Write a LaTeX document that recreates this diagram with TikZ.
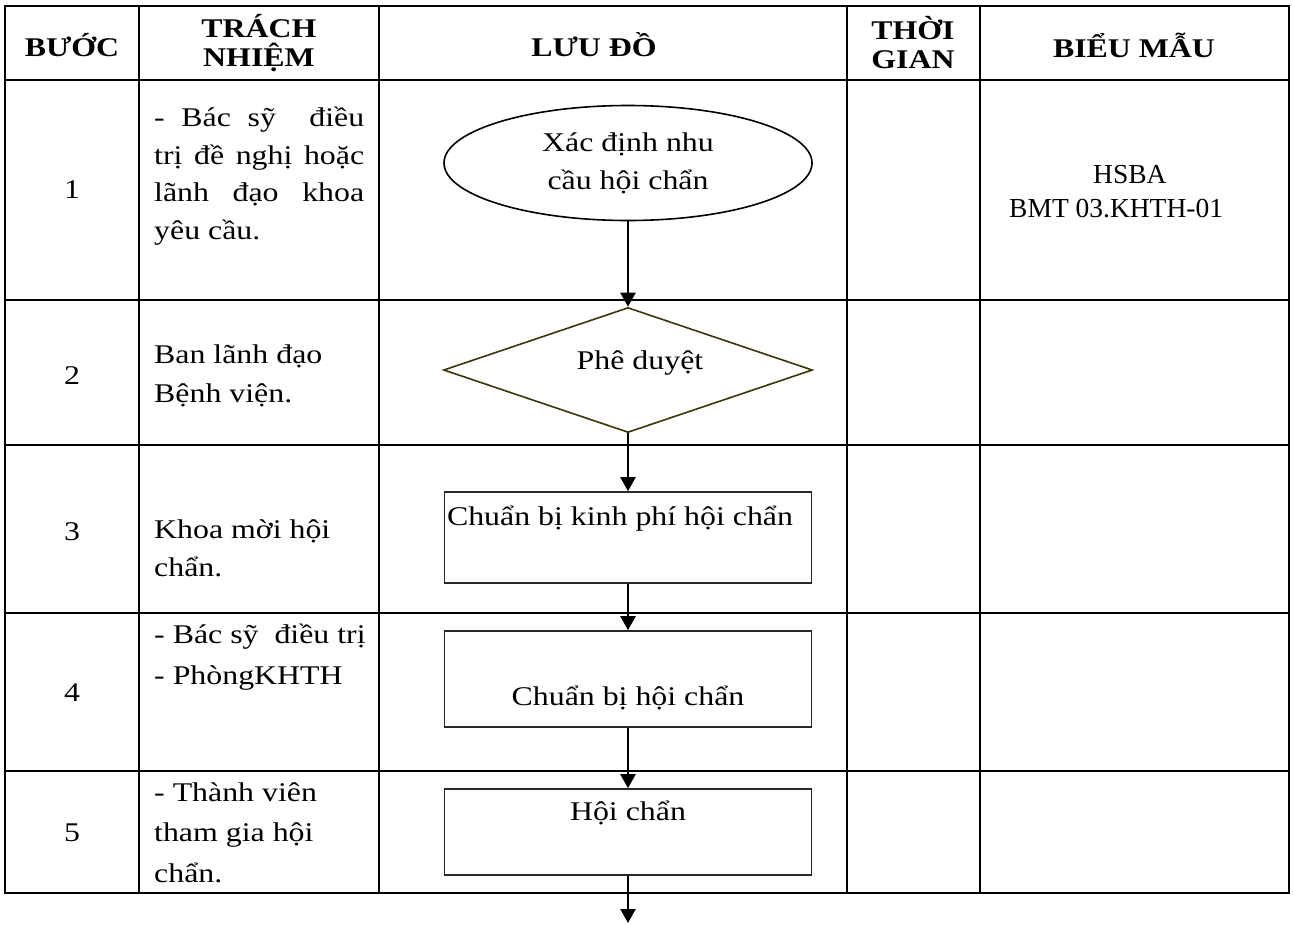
\documentclass[tikz,border=0pt]{standalone}
\usepackage{fontspec}
\setmainfont{Liberation Serif}[FakeStretch=1.18]
\newfontfamily\plainfont{Liberation Serif}
\usetikzlibrary{shapes.geometric,arrows.meta}
\definecolor{diacol}{RGB}{58,54,8}
\definecolor{boxcol}{RGB}{40,40,40}
\begin{document}
\begin{tikzpicture}[x=1pt,y=-1pt,
  gridline/.style={line width=2.6pt,line cap=rect},
  txt/.style={font=\fontsize{27}{38}\selectfont, inner sep=0pt, align=left},
  hdr/.style={font=\fontsize{27}{29}\selectfont\bfseries, inner sep=0pt, align=center},
  num/.style={font=\fontsize{27}{38}\selectfont, inner sep=0pt},
  flowtxt/.style={font=\fontsize{27}{38}\selectfont, inner sep=0pt},
  boxshape/.style={flowtxt, draw=boxcol, line width=1.6pt, rectangle, minimum width=367pt},
  conn/.style={line width=2.2pt, -{Triangle[length=14pt,width=15pt]}},
]
\useasboundingbox (0,0) rectangle (1293,924);
% table grid
\draw[gridline] (5,6) rectangle (1289,893);
\foreach \yy in {80,300,445,613,771} \draw[gridline] (5,\yy) -- (1289,\yy);
\foreach \xx in {139,379,847,980} \draw[gridline] (\xx,6) -- (\xx,893);
% header
\node[hdr] (hB) at (72,45) {BƯỚC};
\node[hdr] (hT) at (259,43) {TRÁCH\\NHIỆM};
\node[hdr] (hL) at (594,45) {LƯU ĐỒ};
\node[hdr] (hTG) at (913,43) {THỜI\\GIAN};
\node[hdr] (hBM) at (1134,45) {BIỂU MẪU};
% step numbers
\node[num] (n1) at (72,190) {1};
\node[num] (n2) at (72,376) {2};
\node[num] (n3) at (72,532) {3};
\node[num] (n4) at (72,693) {4};
\node[num] (n5) at (72,833) {5};
% responsibilities (anchor = baseline of last line)
\node[txt, font=\fontsize{27}{37.5}\selectfont, anchor=base west] (r1) at (154,239)
  {\makebox[210pt][s]{- Bác sỹ\ \ điều}\\\makebox[210pt][s]{trị đề nghị hoặc}\\\makebox[210pt][s]{lãnh đạo khoa}\\yêu cầu.};
\node[txt, font=\fontsize{27}{39}\selectfont, anchor=base west] (r2) at (154,402) {Ban lãnh đạo\\Bệnh viện.};
\node[txt, anchor=base west] (r3) at (154,576) {Khoa mời hội\\chẩn.};
\node[txt, font=\fontsize{27}{41}\selectfont, anchor=base west] (r4) at (154,684) {- Bác sỹ\ \ điều trị\\- PhòngKHTH};
\node[txt, font=\fontsize{27}{40.5}\selectfont, anchor=base west] (r5) at (154,882) {- Thành viên\\tham gia hội\\chẩn.};
% forms
\node[inner sep=0pt, align=left, font=\plainfont\fontsize{27.5}{34}\selectfont, anchor=base west] (f1) at (1009,217)
  {\hspace*{84pt}HSBA\\BMT 03.KHTH-01};
% flowchart
\node[ellipse, draw=black, line width=1.6pt, minimum width=368pt, minimum height=115pt, inner sep=0pt,
      align=center, font=\fontsize{27}{38}\selectfont] (e) at (628,163) {Xác định nhu\\cầu hội chẩn};
\node[diamond, aspect=2.95, draw=diacol, line width=1.6pt, minimum width=369pt, minimum height=125pt, inner sep=0pt,
      flowtxt, text height=19pt, text depth=21pt] (d) at (628,370) {\hspace*{24pt}Phê duyệt};
\node[boxshape, minimum height=91pt, text height=25pt, text depth=50pt] (b1) at (628,537.5)
  {Chuẩn bị kinh phí hội chẩn\hspace*{16pt}};
\node[boxshape, minimum height=96pt, text height=58pt, text depth=6pt] (b2) at (628,679) {Chuẩn bị hội chẩn};
\node[boxshape, minimum height=86pt, text height=25pt, text depth=49pt] (b3) at (628,832) {Hội chẩn};
\coordinate (end) at (628,923);
\draw[conn] (e.south) -- (d.north);
\draw[conn] (d.south) -- (b1.north);
\draw[conn] (b1.south) -- (b2.north);
\draw[conn] (b2.south) -- (b3.north);
\draw[conn] (b3.south) -- (end);
\end{tikzpicture}
\end{document}
